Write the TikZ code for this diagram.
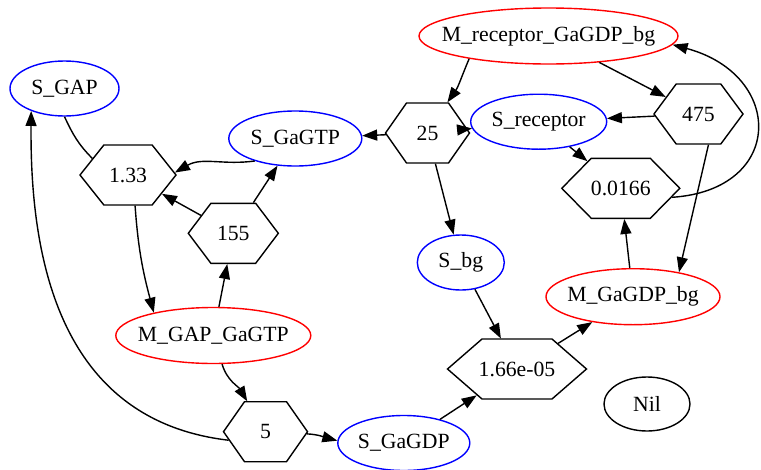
\documentclass[tikz,border=0pt]{standalone}
\usepackage{fontspec}
\setmainfont{Liberation Serif}
\usetikzlibrary{shapes.geometric,shapes.symbols,arrows.meta}

\begin{document}
\begin{tikzpicture}[x=1pt, y=1pt, line width=1.4pt, >={Triangle[length=15pt,width=11pt]},
  every node/.style={font=\fontsize{21.7}{26}\selectfont, inner sep=0pt, line width=1.4pt,
    execute at begin node=\hbox to 0pt\bgroup\hss, execute at end node=\hss\egroup},
  spec/.style={draw=blue, ellipse, minimum height=55pt, minimum width=#1},
  cplx/.style={draw=red, ellipse, minimum height=56pt, minimum width=#1},
  rate/.style 2 args={draw, signal, signal to=east and west, minimum height=60pt,
    minimum width=#1, signal pointer angle=#2}]
\useasboundingbox (0,-469) rectangle (761,0);

% species
\node[spec=109] (sgap) at (64.5,-88.5) {S\_GAP};
\node[spec=133] (sgtp) at (295.3,-138.5) {S\_GaGTP};
\node[spec=136] (srec) at (538.7,-121.7) {S\_receptor};
\node[spec=87] (sbg) at (460.8,-262.5) {S\_bg};
\node[spec=132] (sgdp) at (403.8,-443) {S\_GaGDP};
\node[draw, ellipse, minimum width=86pt, minimum height=54pt] (nil) at (647,-404) {Nil};

% complexes
\node[cplx=259] (mrec) at (548.5,-36) {M\_receptor\_GaGDP\_bg};
\node[cplx=174] (mgdp) at (633,-296.7) {M\_GaGDP\_bg};
\node[cplx=195] (mgap) at (213.3,-335.5) {M\_GAP\_GaGTP};

% reactions
\node[rate={96}{103}] (r133) at (128,-175) {1.33};
\node[rate={84}{110}] (r25) at (427.5,-133) {25};
\node[rate={89}{107}] (r475) at (698.5,-114) {475};
\node[rate={90}{106}] (r155) at (233.3,-233.3) {155};
\node[rate={118}{91}] (r0166) at (620.8,-188.3) {0.0166};
\node[rate={139}{82}] (r166) at (517,-369) {1.66e-05};
\node[rate={84}{110}] (r5) at (265.5,-431.7) {5};

\draw (sgap.south) to[out=-65,in=135] (r133.155);
\path[->]
  (mrec.196) edge[out=247,in=55] (r25.57)
  (mrec) edge (r475)
  (r25) edge (sgtp)
  (r25) edge (srec)
  (r25) edge (sbg)
  (r475) edge (srec)
  (r475.-72) edge (mgdp.28)
  (srec) edge (r0166)
  (mgdp) edge (r0166)
  ;
\path[->]
  (sgtp.209) edge[out=188,in=30] (r133.3)
  (r155) edge (r133)
  (r155) edge (sgtp)
  (r133.-77) edge[out=-86,in=105] (mgap.159)
  (mgap) edge (r155)
  (mgap) edge[out=-73,in=121] (r5)
  (r5.-3) edge[out=-3,in=165] (sgdp.178)
  (sbg) edge (r166)
  (sgdp) edge (r166)
  (r166) edge (mgdp)
  ;
\draw[->] (r5.193) .. controls (55,-420) and (30,-250) .. (sgap.214);
\draw[->] (r0166.-10) .. controls (785,-190) and (785,-75) .. (mrec.-4);
\end{tikzpicture}
\end{document}
